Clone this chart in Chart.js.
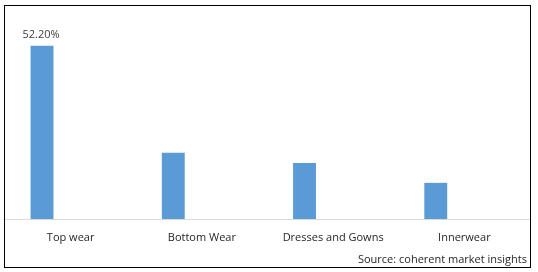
<!DOCTYPE html>
<html>
<head>
<meta charset="utf-8">
<script src="https://cdn.jsdelivr.net/npm/chart.js@4.4.1/dist/chart.umd.min.js"></script>
<style>
  html, body { margin: 0; padding: 0; background: #fff; }
  #frame { position: absolute; left: 4px; top: 5px; width: 525px; height: 261px; border: 1px solid #000; }
  #wrap { position: absolute; left: 0; top: 0; width: 525px; height: 261px; }
  #source { position: absolute; right: 3px; bottom: 1px; font: 11px "Open Sans", sans-serif; color: #262626; white-space: nowrap; }
</style>
</head>
<body>
<div id="frame">
  <div id="wrap"><canvas id="c"></canvas></div>
  <div id="source">Source: coherent market insights</div>
</div>
<script>
const categories = ["Top wear", "Bottom Wear", "Dresses and Gowns", "Innerwear"];
const shareValues = [52.2, 20.0, 16.9, 10.9];
const emptySeries = [null, null, null, null];
const valueLabels = ["52.20%", "", "", ""];

const labelPlugin = {
  id: 'valueLabels',
  afterDatasetsDraw(chart) {
    const ctx = chart.ctx;
    const meta = chart.getDatasetMeta(0);
    ctx.save();
    ctx.font = '11px "Open Sans", sans-serif';
    ctx.fillStyle = '#404040';
    ctx.textAlign = 'center';
    ctx.textBaseline = 'bottom';
    meta.data.forEach((bar, i) => {
      if (valueLabels[i]) ctx.fillText(valueLabels[i], bar.x - 1, bar.y - 6);
    });
    ctx.restore();
  }
};

new Chart(document.getElementById('c'), {
  type: 'bar',
  data: {
    labels: categories,
    datasets: [
      { data: shareValues, backgroundColor: '#5b9bd5', categoryPercentage: 0.872, barPercentage: 0.40 },
      { data: emptySeries, backgroundColor: '#ed7d31', categoryPercentage: 0.872, barPercentage: 0.40 }
    ]
  },
  options: {
    responsive: true,
    maintainAspectRatio: false,
    animation: false,
    layout: { padding: { top: 14, left: 0, right: 0, bottom: 0 } },
    plugins: { legend: { display: false }, tooltip: { enabled: false } },
    scales: {
      x: {
        grid: { display: false, drawTicks: false },
        border: { display: true, color: '#d9d9d9', width: 1 },
        ticks: { color: '#262626', font: { family: 'Open Sans', size: 11 }, padding: 12, maxRotation: 0, autoSkip: false },
        afterFit(s) { s.height = 48; }
      },
      y: { display: false, min: 0, max: 60 }
    }
  },
  plugins: [labelPlugin]
});
</script>
</body>
</html>
